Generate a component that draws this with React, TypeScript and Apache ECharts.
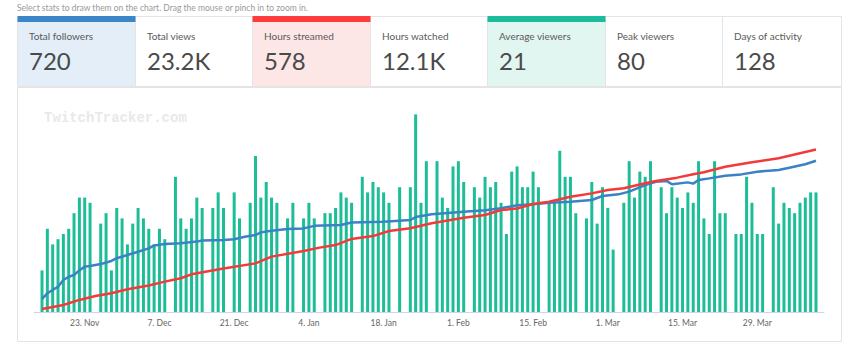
import React, { useEffect, useRef } from 'react';
import * as echarts from 'echarts';

// ---- data ----
const AXIS_START_UTC = Date.UTC(2018, 10, 14); // first slot on the axis (14 Nov)
const AXIS_DAYS = 148; // 14 Nov .. 10 Apr
const DATA_OFFSET = 1; // first data day = 15 Nov

const tickDates = ['2018-11-23', '2018-12-07', '2018-12-21', '2019-01-04', '2019-01-18', '2019-02-01', '2019-02-15', '2019-03-01', '2019-03-15', '2019-03-29'];
const tickLabels = ['23. Nov', '7. Dec', '21. Dec', '4. Jan', '18. Jan', '1. Feb', '15. Feb', '1. Mar', '15. Mar', '29. Mar'];

// average viewers per day from 15 Nov (null = no stream)
const avgViewers: (number | null)[] = [
  8, 16, 13, 14, 15, 16, 19, 22, 22, 21,
  null, 17, 19, 8, 20, 18, 13, 17, 20, 18,
  16, 13, 16, 14, null, 26, 18, 16, 18, 22,
  20, null, 20, 23, 20, null, 23, 18, null, 21,
  30, 22, 25, 22, 21, null, 18, 21, null, 18,
  21, 18, null, 19, 19, 20, 23, 22, 21, null,
  26, 23, 25, 24, 23, 21, null, 24, null, 24,
  38, 21, 29, null, 29, 22, 20, 28, 29, 25,
  null, 24, 22, 26, 24, 25, 21, 15, 27, 28,
  24, 24, 27, 24, null, 21, 21, 31, 26, 26,
  19, null, 18, 25, 17, 24, 20, 12, null, 21,
  29, 22, 27, 26, 29, null, 24, 19, 24, 22,
  20, 23, 21, 29, 18, 15, 29, 19, 19, null,
  15, 15, 26, 21, 15, 15, null, 24, 17, 21,
  20, 19, 21, 22, 23, 23,
];

// total followers (day offset from 15 Nov, value)
const followerDays = [0, 1, 2, 3, 4, 5, 6, 7, 8, 9, 11, 13, 14, 16, 18, 20, 21, 23, 26, 29, 30, 34, 36, 38, 40, 41, 43, 46, 49, 51, 56, 58, 64, 69, 70, 73, 79, 83, 86, 89, 92, 95, 99, 103, 105, 108, 110, 113, 115, 117, 118, 121, 122, 123, 125, 128, 131, 134, 138, 140, 143, 145];
const followerValues = [62, 89, 105, 120, 152, 168, 176, 198, 216, 219, 228, 243, 256, 271, 287, 303, 317, 324, 327, 335, 340, 343, 346, 358, 366, 379, 387, 395, 398, 410, 414, 426, 430, 438, 452, 465, 477, 484, 494, 508, 513, 520, 525, 533, 552, 560, 573, 604, 620, 624, 608, 617, 611, 628, 636, 649, 655, 668, 676, 687, 703, 720];

// hours streamed, cumulative
const hoursDays = [0, 4, 7, 10, 13, 16, 20, 23, 26, 28, 34, 40, 43, 49, 52, 55, 58, 62, 65, 69, 73, 79, 83, 86, 89, 92, 95, 99, 103, 106, 109, 113, 115, 119, 122, 124, 128, 133, 138, 142, 145];
const hoursValues = [11, 25, 43, 57, 67, 81, 94, 108, 120, 134, 155, 173, 197, 217, 229, 238, 260, 270, 288, 298, 316, 335, 345, 363, 368, 384, 392, 410, 422, 434, 440, 458, 466, 478, 490, 497, 517, 533, 547, 565, 578];

const statLabels = ['Total followers', 'Total views', 'Hours streamed', 'Hours watched', 'Average viewers', 'Peak viewers', 'Days of activity'];
const statValues = ['720', '23.2K', '578', '12.1K', '21', '80', '128'];
const statAccent: (string | null)[] = ['#3a86c6', null, '#ff3b3b', null, '#1bbc9b', null, null];
const statBg = ['#e3eef8', '#ffffff', '#fde6e6', '#ffffff', '#e1f6f0', '#ffffff', '#ffffff'];

const COL_BLUE = '#3b82c4';
const COL_RED = '#f23a3a';
const COL_GREEN = '#1dbd98';
const FONT = 'Lato, "Open Sans", sans-serif';

function buildCategories(): string[] {
  const out: string[] = [];
  for (let k = 0; k < AXIS_DAYS; k++) {
    out.push(new Date(AXIS_START_UTC + k * 86400000).toISOString().slice(0, 10));
  }
  return out;
}

export default function App() {
  const ref = useRef<HTMLDivElement>(null);
  useEffect(() => {
    if (!ref.current) return;
    const chart = echarts.init(ref.current, undefined, { renderer: 'svg' });
    const cats = buildCategories();
    const barData = cats.map((_, k) => {
      const i = k - DATA_OFFSET;
      return i >= 0 && i < avgViewers.length ? avgViewers[i] : null;
    });
    const folData = followerDays.map((d, j) => [cats[d + DATA_OFFSET], followerValues[j]]);
    const hrsData = hoursDays.map((d, j) => [cats[d + DATA_OFFSET], hoursValues[j]]);
    const isTick = (idx: number) => tickDates.indexOf(cats[idx]) >= 0;

    const boxEdges = [17, 135, 252, 370, 487, 605, 722, 841];
    const graphics: any[] = [];
    graphics.push({
      type: 'text', x: 17, y: 8, z: 10,
      style: { text: 'Select stats to draw them on the chart. Drag the mouse or pinch in to zoom in.', font: `8.5px ${FONT}`, fill: '#9a9a9a', verticalAlign: 'middle' },
    });
    for (let b = 0; b < 7; b++) {
      const x0 = boxEdges[b];
      const w = boxEdges[b + 1] - x0;
      graphics.push({ type: 'rect', shape: { x: x0 + 0.5, y: 16.5, width: w, height: 70 }, style: { fill: statBg[b], stroke: '#e4e4e4', lineWidth: 1 }, z: 1 });
      if (statAccent[b]) {
        graphics.push({ type: 'rect', shape: { x: x0 + 0.5, y: 16, width: w, height: 6 }, style: { fill: statAccent[b] as string }, z: 2 });
      }
      graphics.push({ type: 'text', x: x0 + 12, y: 35.5, z: 3, style: { text: statLabels[b], font: `10px ${FONT}`, fill: '#595959', verticalAlign: 'middle' } });
      graphics.push({ type: 'text', x: x0 + 12, y: 60, z: 3, style: { text: statValues[b], font: `24px ${FONT}`, fill: '#4a4a4a', verticalAlign: 'middle' } });
    }
    graphics.push({ type: 'rect', shape: { x: 17.5, y: 87.5, width: 824, height: 254 }, style: { fill: 'none', stroke: '#e4e4e4', lineWidth: 1 }, z: 1 });
    graphics.push({
      type: 'text', x: 44, y: 118, z: 1,
      style: { text: 'TwitchTracker.com', font: `bold 14px "Liberation Mono", "DejaVu Sans Mono", monospace`, fill: '#e9e9e9', verticalAlign: 'middle' },
    });

    chart.setOption({
      animation: false,
      backgroundColor: '#ffffff',
      graphic: { elements: graphics },
      grid: { left: 34, right: 26, top: 104, bottom: 46, containLabel: false },
      xAxis: {
        type: 'category',
        data: cats,
        boundaryGap: true,
        axisLine: { lineStyle: { color: '#ccd6eb', width: 1 } },
        axisTick: { alignWithLabel: true, length: 5, lineStyle: { color: '#ccd6eb' }, interval: (idx: number) => isTick(idx) },
        axisLabel: {
          interval: (idx: number) => isTick(idx),
          formatter: (v: string) => { const t = tickDates.indexOf(v); return t >= 0 ? tickLabels[t] : ''; },
          color: '#666', fontSize: 8.5, fontFamily: FONT, margin: 6,
        },
        splitLine: { show: false },
      },
      yAxis: [
        { type: 'value', min: 0, max: 40, show: false, splitLine: { show: false } },
        { type: 'value', min: 0, max: 990, show: false, splitLine: { show: false } },
        { type: 'value', min: 0, max: 740, show: false, splitLine: { show: false } },
      ],
      series: [
        { name: 'Average viewers', type: 'bar', yAxisIndex: 0, data: barData, barWidth: 3, itemStyle: { color: COL_GREEN }, z: 2 },
        { name: 'Total followers', type: 'line', yAxisIndex: 1, data: folData, showSymbol: false, symbol: 'none', lineStyle: { color: COL_BLUE, width: 2.5 }, z: 3 },
        { name: 'Hours streamed', type: 'line', yAxisIndex: 2, data: hrsData, showSymbol: false, symbol: 'none', lineStyle: { color: COL_RED, width: 2.5 }, z: 4 },
      ],
    });
    return () => chart.dispose();
  }, []);
  return <div ref={ref} style={{ position: 'absolute', left: 0, top: 0, width: 850, height: 358 }} />;
}
